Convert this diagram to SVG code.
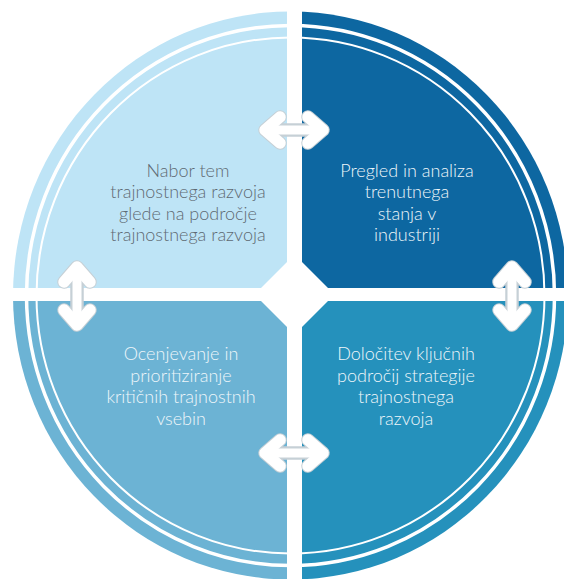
<svg xmlns="http://www.w3.org/2000/svg" width="564" height="579" viewBox="0 0 564 579">
  <style>
    .lbl { font-family: Lato, "Open Sans", "Liberation Sans", sans-serif; font-size: 18px; font-weight: 300; text-anchor: middle; }
    .dark { fill: #5e6a73; }
    .light { fill: #eef6fa; }
    .ring1 { fill: none; stroke: #ffffff; stroke-width: 3.5; }
    .ring2 { fill: none; stroke: #ffffff; stroke-width: 2; }
    .arr-o { fill: none; stroke: #c6d0d6; stroke-linecap: round; stroke-linejoin: round; }
    .arr-i { fill: none; stroke: #ffffff; stroke-linecap: round; stroke-linejoin: round; }
  </style>
  <defs>
    <clipPath id="disc">
      <ellipse cx="290.5" cy="295.5" rx="277.5" ry="284"/>
    </clipPath>
  </defs>
  <rect width="564" height="579" fill="#ffffff"/>

  <g id="node-tl">
    <polygon points="0,0 287,0 287,262 261,288 0,288" fill="#bee4f6" clip-path="url(#disc)"/>
    <text class="lbl dark" x="188" y="176.5">Nabor tem</text>
    <text class="lbl dark" x="188" y="198">trajnostnega razvoja</text>
    <text class="lbl dark" x="188" y="219.5">glede na področje</text>
    <text class="lbl dark" x="188" y="241">trajnostnega razvoja</text>
  </g>

  <g id="node-tr">
    <polygon points="302,0 564,0 564,288 328,288 302,262" fill="#0d67a1" clip-path="url(#disc)"/>
    <text class="lbl light" x="407" y="176.5">Pregled in analiza</text>
    <text class="lbl light" x="407" y="198">trenutnega</text>
    <text class="lbl light" x="407" y="219.5">stanja v</text>
    <text class="lbl light" x="407" y="241">industriji</text>
  </g>

  <g id="node-bl">
    <polygon points="0,301 261,301 287,327 287,579 0,579" fill="#6cb3d4" clip-path="url(#disc)"/>
    <text class="lbl light" x="181" y="360">Ocenjevanje in</text>
    <text class="lbl light" x="181" y="381.5">prioritiziranje</text>
    <text class="lbl light" x="181" y="403">kritičnih trajnostnih</text>
    <text class="lbl light" x="181" y="424.5">vsebin</text>
  </g>

  <g id="node-br">
    <polygon points="328,301 564,301 564,579 302,579 302,327" fill="#2591bc" clip-path="url(#disc)"/>
    <text class="lbl light" x="406" y="360">Določitev ključnih</text>
    <text class="lbl light" x="406" y="381.5">področij strategije</text>
    <text class="lbl light" x="406" y="403">trajnostnega</text>
    <text class="lbl light" x="406" y="424.5">razvoja</text>
  </g>

  <g id="rings">
    <ellipse class="ring1" cx="290.5" cy="295.5" rx="264" ry="270"/>
    <ellipse class="ring2" cx="290.5" cy="295.5" rx="254" ry="258"/>
  </g>

  <g id="connectors">
    <g id="arrow-top">
      <path class="arr-o" stroke-width="13.5" d="M268,130 H320 M280,117 L265,130 L280,143 M308,117 L323,130 L308,143"/>
      <path class="arr-i" stroke-width="11.5" d="M280,117 L265,130 L280,143 M308,117 L323,130 L308,143"/>
      <path class="arr-i" stroke-width="9" d="M268,130 H320"/>
    </g>
    <g id="arrow-bottom">
      <path class="arr-o" stroke-width="13.5" d="M268,453 H320 M280,440 L265,453 L280,466 M308,440 L323,453 L308,466"/>
      <path class="arr-i" stroke-width="11.5" d="M280,440 L265,453 L280,466 M308,440 L323,453 L308,466"/>
      <path class="arr-i" stroke-width="9" d="M268,453 H320"/>
    </g>
    <g id="arrow-left">
      <path class="arr-o" stroke-width="13.5" d="M77,270 V322 M64,282 L77,267 L90,282 M64,310 L77,325 L90,310"/>
      <path class="arr-i" stroke-width="11.5" d="M64,282 L77,267 L90,282 M64,310 L77,325 L90,310"/>
      <path class="arr-i" stroke-width="9" d="M77,270 V322"/>
    </g>
    <g id="arrow-right">
      <path class="arr-o" stroke-width="13.5" d="M512,270 V322 M499,282 L512,267 L525,282 M499,310 L512,325 L525,310"/>
      <path class="arr-i" stroke-width="11.5" d="M499,282 L512,267 L525,282 M499,310 L512,325 L525,310"/>
      <path class="arr-i" stroke-width="9" d="M512,270 V322"/>
    </g>
  </g>
</svg>
